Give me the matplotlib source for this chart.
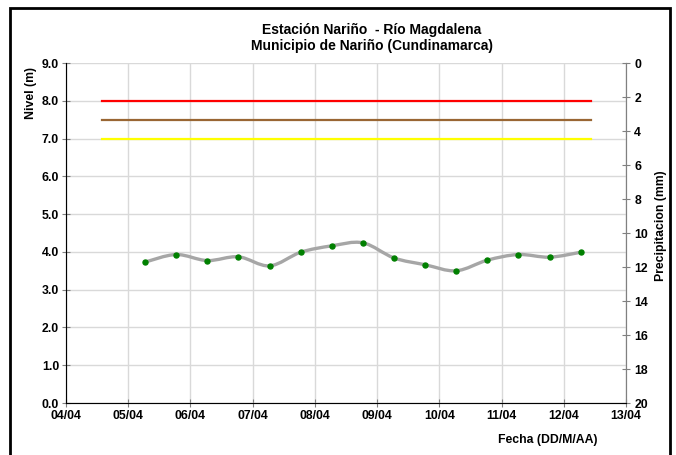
import datetime as dt
import numpy as np
import matplotlib
matplotlib.use("Agg")
import matplotlib.pyplot as plt
import matplotlib.dates as mdates
from matplotlib.path import Path
from matplotlib.patches import PathPatch, Rectangle

plt.rcParams["font.family"] = ["Liberation Sans", "DejaVu Sans"]
plt.rcParams["font.weight"] = "bold"

# readings every 12 h starting 05/04 ~06:30
start = dt.datetime(2011, 4, 5, 6, 30)
times = [start + dt.timedelta(hours=12 * i) for i in range(15)]
nivel = [3.73, 3.93, 3.77, 3.87, 3.63, 3.99, 4.16, 4.24, 3.84,
         3.66, 3.50, 3.78, 3.93, 3.86, 3.99]

alerta_ini = dt.datetime(2011, 4, 4, 14, 0)
alerta_fin = dt.datetime(2011, 4, 12, 10, 30)
alerta_roja = 8.0
alerta_naranja = 7.5
alerta_amarilla = 7.0

x_ini = dt.datetime(2011, 4, 4)
x_fin = dt.datetime(2011, 4, 13)

fig = plt.figure(figsize=(6.76, 4.55), dpi=100)
ax = fig.add_axes([66 / 676, 1 - 403 / 455, 560 / 676, 340 / 455])

# frame around the figure
fig.patches.append(Rectangle((10 / 676, -0.05), 660 / 676, 1 - 8 / 455 + 0.05,
                             transform=fig.transFigure, fill=False,
                             edgecolor="black", linewidth=2))

ax.plot([alerta_ini, alerta_fin], [alerta_roja] * 2, color="#ff0000", lw=1.6, zorder=3)
ax.plot([alerta_ini, alerta_fin], [alerta_naranja] * 2, color="#996633", lw=1.6, zorder=3)
ax.plot([alerta_ini, alerta_fin], [alerta_amarilla] * 2, color="#ffff00", lw=1.6, zorder=3)

# smoothed line (catmull-rom as bezier, like Excel's smooth line)
xs = mdates.date2num(times)
ys = np.array(nivel)
pts = np.column_stack([xs, ys])
verts = [pts[0]]
codes = [Path.MOVETO]
for i in range(len(pts) - 1):
    p0 = pts[i - 1] if i > 0 else pts[i]
    p1 = pts[i]
    p2 = pts[i + 1]
    p3 = pts[i + 2] if i + 2 < len(pts) else pts[i + 1]
    c1 = p1 + (p2 - p0) / 6
    c2 = p2 - (p3 - p1) / 6
    verts += [c1, c2, p2]
    codes += [Path.CURVE4] * 3
ax.add_patch(PathPatch(Path(verts, codes), facecolor="none",
                       edgecolor="#a6a6a6", lw=2.4, zorder=4))
ax.plot(times, nivel, linestyle="none", marker="o", markersize=3.6,
        color="#008000", zorder=5)

ax.set_xlim(x_ini, x_fin)
ax.set_ylim(0, 9)
ax.xaxis.set_major_locator(mdates.DayLocator())
ax.xaxis.set_major_formatter(mdates.DateFormatter("%d/%m"))
ax.set_yticks(np.arange(0, 9.1, 1.0))
ax.yaxis.set_major_formatter(matplotlib.ticker.FormatStrFormatter("%.1f"))
ax.grid(True, color="#d9d9d9", lw=1)
ax.set_axisbelow(True)
ax.spines["top"].set_visible(False)
for s in ["left", "bottom", "right"]:
    ax.spines[s].set_color("#808080")
ax.tick_params(direction="inout", length=6, color="#808080", labelsize=8.8, pad=2)

ax2 = ax.twinx()
ax2.set_ylim(20, 0)
ax2.set_yticks(np.arange(0, 21, 2))
ax2.spines["top"].set_visible(False)
ax2.spines["right"].set_color("#808080")
ax2.tick_params(direction="inout", length=6, color="#808080", labelsize=8.8, pad=3)

for lab in ax.get_xticklabels() + ax.get_yticklabels() + ax2.get_yticklabels():
    lab.set_fontweight("bold")

fig.text(372 / 676, 1 - 30 / 455, "Estación Nariño  - Río Magdalena",
         ha="center", va="center", fontsize=10, fontweight="bold")
fig.text(372 / 676, 1 - 46 / 455, "Municipio de Nariño (Cundinamarca)",
         ha="center", va="center", fontsize=10, fontweight="bold")
fig.text(31 / 676, 1 - 93 / 455, "Nivel (m)", rotation=90,
         ha="center", va="center", fontsize=8.8, fontweight="bold")
fig.text(661 / 676, 1 - 226 / 455, "Precipitacion (mm)", rotation=90,
         ha="center", va="center", fontsize=8.8, fontweight="bold")
fig.text(548 / 676, 1 - 440 / 455, "Fecha (DD/M/AA)",
         ha="center", va="center", fontsize=8.8, fontweight="bold")

fig.savefig("out.png", dpi=100)
